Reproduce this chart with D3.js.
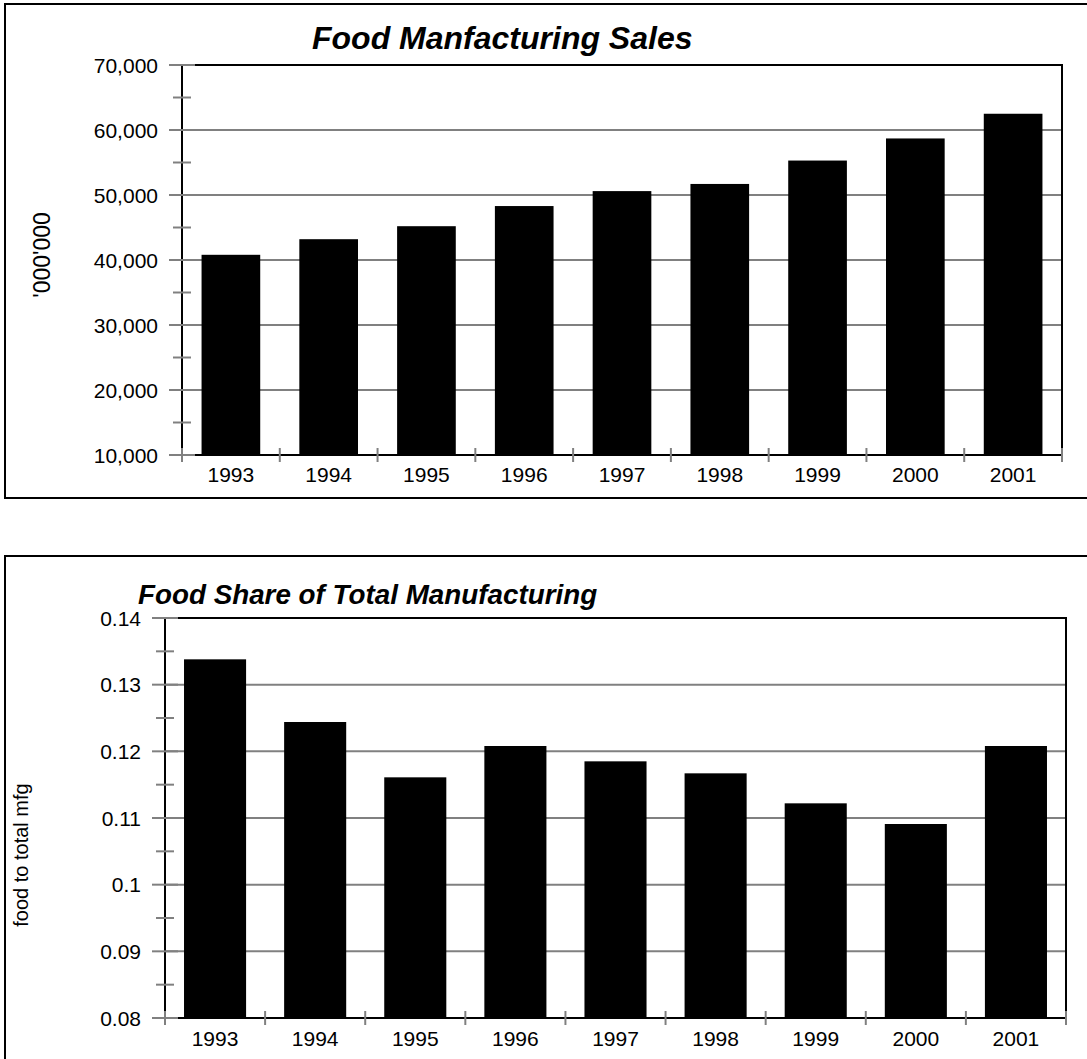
<!DOCTYPE html>
<html>
<head>
<meta charset="utf-8">
<script src="https://cdn.jsdelivr.net/npm/d3@7"></script>
<style>
  body { margin: 0; background: #fff; }
  text { font-family: "Liberation Sans", Arial, sans-serif; fill: #000; }
</style>
</head>
<body>
<div id="chart"></div>
<script>
// data
const years = ["1993", "1994", "1995", "1996", "1997", "1998", "1999", "2000", "2001"];
const salesValues = [40800, 43200, 45200, 48300, 50600, 51700, 55300, 58700, 62500];
const shareValues = [0.1338, 0.1244, 0.1161, 0.1208, 0.1185, 0.1167, 0.1122, 0.1091, 0.1208];
const salesTicks = [10000, 20000, 30000, 40000, 50000, 60000, 70000];
const shareTicks = [0.08, 0.09, 0.1, 0.11, 0.12, 0.13, 0.14];

const W = 1087, H = 1059;
const grey = "#808080";

const svg = d3.select("#chart").append("svg")
  .attr("width", W).attr("height", H);

function drawChart(o) {
  const g = svg.append("g");

  // outer frame
  g.append("rect")
    .attr("x", o.box[0]).attr("y", o.box[1])
    .attr("width", o.box[2]).attr("height", o.box[3])
    .attr("fill", "none").attr("stroke", "#000").attr("stroke-width", 2);

  const x = d3.scaleBand().domain(o.cats)
    .range([o.left, o.right])
    .paddingInner(o.pad).paddingOuter(o.pad / 2);

  const y = d3.scaleLinear()
    .domain([o.ticks[0], o.ticks[o.ticks.length - 1]])
    .range([o.bottom, o.top]);

  // gridlines
  g.selectAll(".grid")
    .data(o.ticks.slice(1, -1))
    .join("line")
    .attr("x1", o.left).attr("x2", o.right)
    .attr("y1", d => y(d)).attr("y2", d => y(d))
    .attr("stroke", grey).attr("stroke-width", 2);

  // bars
  g.selectAll(".bar")
    .data(o.values)
    .join("rect")
    .attr("x", (d, i) => x(o.cats[i]))
    .attr("width", x.bandwidth())
    .attr("y", d => y(d))
    .attr("height", d => y(o.ticks[0]) - y(d))
    .attr("fill", "#000");

  // plot frame
  g.append("rect")
    .attr("x", o.left).attr("y", o.top)
    .attr("width", o.right - o.left).attr("height", o.bottom - o.top)
    .attr("fill", "none").attr("stroke", "#000").attr("stroke-width", 2);

  // y ticks (crossing the axis), major and minor
  g.selectAll(".ytick")
    .data(o.ticks)
    .join("line")
    .attr("x1", o.left - 13).attr("x2", o.left + 13)
    .attr("y1", d => y(d)).attr("y2", d => y(d))
    .attr("stroke", grey).attr("stroke-width", 2);

  const minor = o.ticks.slice(1).map((d, i) => (d + o.ticks[i]) / 2);
  g.selectAll(".ymtick")
    .data(minor)
    .join("line")
    .attr("x1", o.left - 9).attr("x2", o.left + 9)
    .attr("y1", d => y(d)).attr("y2", d => y(d))
    .attr("stroke", grey).attr("stroke-width", 2);

  // x ticks at category boundaries
  const bounds = o.cats.map(c => x(c) - x.step() * o.pad / 2).concat([o.right]);
  g.selectAll(".xtick")
    .data(bounds)
    .join("line")
    .attr("x1", d => d).attr("x2", d => d)
    .attr("y1", o.bottom - 7).attr("y2", o.bottom + 7)
    .attr("stroke", grey).attr("stroke-width", 2);

  // tick labels
  g.selectAll(".ylab")
    .data(o.ticks)
    .join("text")
    .attr("x", o.left - 24)
    .attr("y", d => y(d))
    .attr("dy", "0.36em")
    .attr("text-anchor", "end")
    .style("font-size", "21px")
    .text(o.fmt);

  g.selectAll(".xlab")
    .data(o.cats)
    .join("text")
    .attr("x", d => x(d) + x.bandwidth() / 2)
    .attr("y", o.xlabY)
    .attr("text-anchor", "middle")
    .style("font-size", "21px")
    .text(d => d);

  // title
  g.append("text")
    .attr("x", o.titleX).attr("y", o.titleY)
    .style("font-size", o.titleSize + "px")
    .style("font-weight", "bold")
    .style("font-style", "italic")
    .text(o.title);

  // y axis title
  g.append("text")
    .attr("transform", `translate(${o.ylabX},${o.ylabY}) rotate(-90)`)
    .attr("text-anchor", "middle")
    .style("font-size", o.ylabSize + "px")
    .text(o.ylab);
}

drawChart({
  cats: years, values: salesValues, ticks: salesTicks,
  fmt: d3.format(","),
  box: [5, 4, 1200, 494],
  left: 182, right: 1062, top: 65, bottom: 455, pad: 0.4,
  xlabY: 482,
  title: "Food Manfacturing Sales", titleX: 312, titleY: 49, titleSize: 32,
  ylab: "'000'000", ylabX: 50, ylabY: 255, ylabSize: 23
});

drawChart({
  cats: years, values: shareValues, ticks: shareTicks,
  fmt: d => String(d),
  box: [5, 556, 1200, 600],
  left: 165, right: 1066, top: 618, bottom: 1018, pad: 0.38,
  xlabY: 1046,
  title: "Food Share of Total Manufacturing", titleX: 138, titleY: 604, titleSize: 27.8,
  ylab: "food to total mfg", ylabX: 28, ylabY: 855, ylabSize: 20
});
</script>
</body>
</html>
